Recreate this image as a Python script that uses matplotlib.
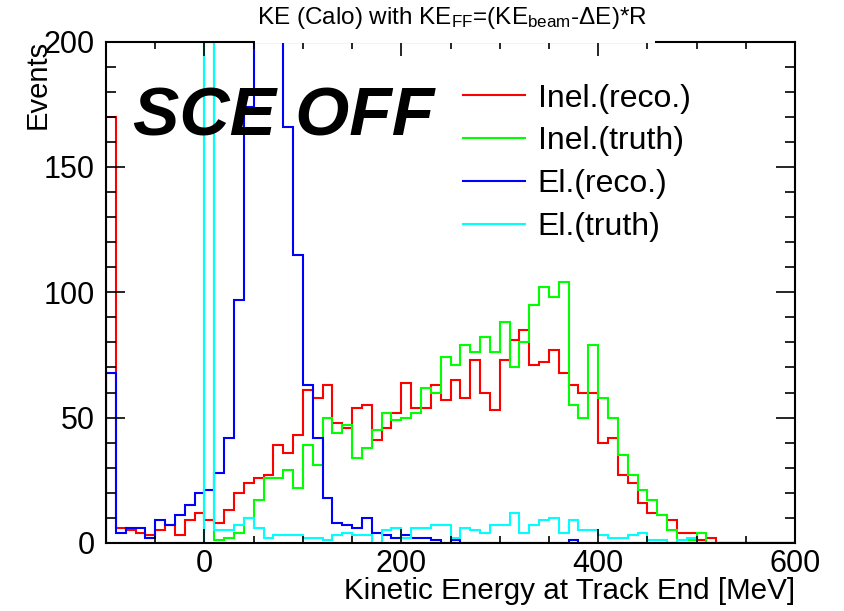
import numpy as np
import matplotlib
matplotlib.use("Agg")
import matplotlib.pyplot as plt
from matplotlib.lines import Line2D
from matplotlib.patches import Rectangle
from matplotlib.ticker import MultipleLocator, FixedLocator

plt.rcParams['font.family'] = ['Liberation Sans', 'DejaVu Sans']
plt.rcParams['mathtext.fontset'] = 'custom'
plt.rcParams['mathtext.rm'] = 'Liberation Sans'
plt.rcParams['mathtext.it'] = 'Liberation Sans:italic'

# 10 MeV bins from -100 to 600 MeV
edges = np.arange(-100, 601, 10)

inel_reco = [170, 6, 5, 4, 3, 5, 7, 3, 9, 12,
             9, 8, 13, 20, 24, 26, 27, 39, 36, 43,
             61, 58, 63, 48, 46, 54, 55, 41, 46, 52,
             64, 54, 54, 63, 57, 65, 58, 73, 60, 53,
             73, 81, 85, 71, 72, 77, 68, 63, 60, 60,
             40, 42, 27, 24, 16, 12, 11, 9, 4, 4,
             1, 2, 0, 0, 0, 0, 0, 0, 0, 0]

inel_truth = [0, 0, 0, 0, 0, 0, 0, 0, 0, 0,
              200, 1, 2, 4, 10, 17, 26, 26, 29, 22,
              39, 31, 50, 44, 47, 34, 38, 45, 52, 49,
              50, 52, 62, 60, 74, 71, 79, 76, 82, 76,
              88, 70, 80, 95, 102, 98, 104, 55, 50, 79,
              58, 50, 35, 27, 21, 17, 11, 5, 1, 1,
              4, 0, 0, 0, 0, 0, 0, 0, 0, 0]

el_reco = [68, 4, 6, 6, 2, 9, 7, 11, 15, 20,
           21, 28, 42, 97, 174, 240, 310, 270, 166, 115,
           63, 42, 18, 8, 7, 6, 10, 4, 3, 2,
           3, 2, 2, 1, 0, 1, 0, 0, 0, 0,
           0, 0, 0, 0, 0, 0, 0, 1, 0, 0,
           0, 0, 0, 0, 0, 0, 0, 0, 0, 0,
           0, 0, 0, 0, 0, 0, 0, 0, 0, 0]

el_truth = [0, 0, 0, 0, 0, 0, 0, 0, 0, 0,
            380, 5, 5, 7, 10, 6, 2, 3, 3, 3,
            2, 2, 1, 3, 4, 3, 3, 0, 5, 6,
            2, 6, 6, 7, 7, 2, 6, 5, 4, 7,
            7, 12, 4, 7, 9, 10, 4, 9, 5, 5,
            3, 2, 2, 3, 4, 1, 1, 0, 1, 2,
            0, 0, 0, 0, 0, 0, 0, 0, 0, 0]

labels = ["Inel.(reco.)", "Inel.(truth)", "El.(reco.)", "El.(truth)"]
colors = ["#ff0000", "#00ff00", "#0000ff", "#00ffff"]
series = [inel_reco, inel_truth, el_reco, el_truth]

fig = plt.figure(figsize=(8.44, 6.11), dpi=100)
ax = fig.add_axes([0.1256, 0.1113, 0.8164, 0.8207])

for vals, c in zip(series, colors):
    ax.stairs(vals, edges, baseline=0, color=c, lw=1.5)

ax.set_xlim(-100, 600)
ax.set_ylim(0, 200)

ax.xaxis.set_major_locator(FixedLocator([0, 200, 400, 600]))
ax.xaxis.set_minor_locator(MultipleLocator(50))
ax.yaxis.set_major_locator(MultipleLocator(50))
ax.yaxis.set_minor_locator(MultipleLocator(10))
ax.tick_params(axis='both', which='both', direction='in', top=True, right=True,
               labelsize=22, width=1.2)
ax.tick_params(axis='x', which='major', length=10, pad=4)
ax.tick_params(axis='x', which='minor', length=5)
ax.tick_params(axis='y', which='major', length=14, pad=8)
ax.tick_params(axis='y', which='minor', length=7)
for s in ax.spines.values():
    s.set_linewidth(1.5)

fig.text(795 / 844, 1 - 577 / 611, "Kinetic Energy at Track End [MeV]",
         ha='right', va='top', fontsize=21.3)
fig.text(38 / 844, 1 - 40 / 611, "Events", rotation=90,
         ha='center', va='top', fontsize=21)

# title box sits over the top of the frame
fig.patches.append(Rectangle((255 / 844, 1 - 43 / 611), 400 / 844, 43 / 611,
                             transform=fig.transFigure, facecolor='white',
                             edgecolor='none', zorder=5))
fig.text(0.536, 1 - 5 / 611,
         r"KE (Calo) with KE$_{\mathrm{FF}}$=(KE$_{\mathrm{beam}}$-$\Delta$E)*R",
         ha='center', va='top', fontsize=17.5, zorder=10)

fig.text(133 / 844, 1 - 135 / 611, "SCE OFF", ha='left', va='baseline',
         fontsize=50, fontweight='bold', fontstyle='italic')

handles = [Line2D([], [], color=c, lw=1.5) for c in colors]
ax.legend(handles, labels, loc='upper left', bbox_to_anchor=(0.518, 0.916),
          frameon=False, fontsize=23, handlelength=1.94, handletextpad=0.4,
          labelspacing=0.40, borderaxespad=0, borderpad=0)

fig.savefig("out.png", dpi=100)
